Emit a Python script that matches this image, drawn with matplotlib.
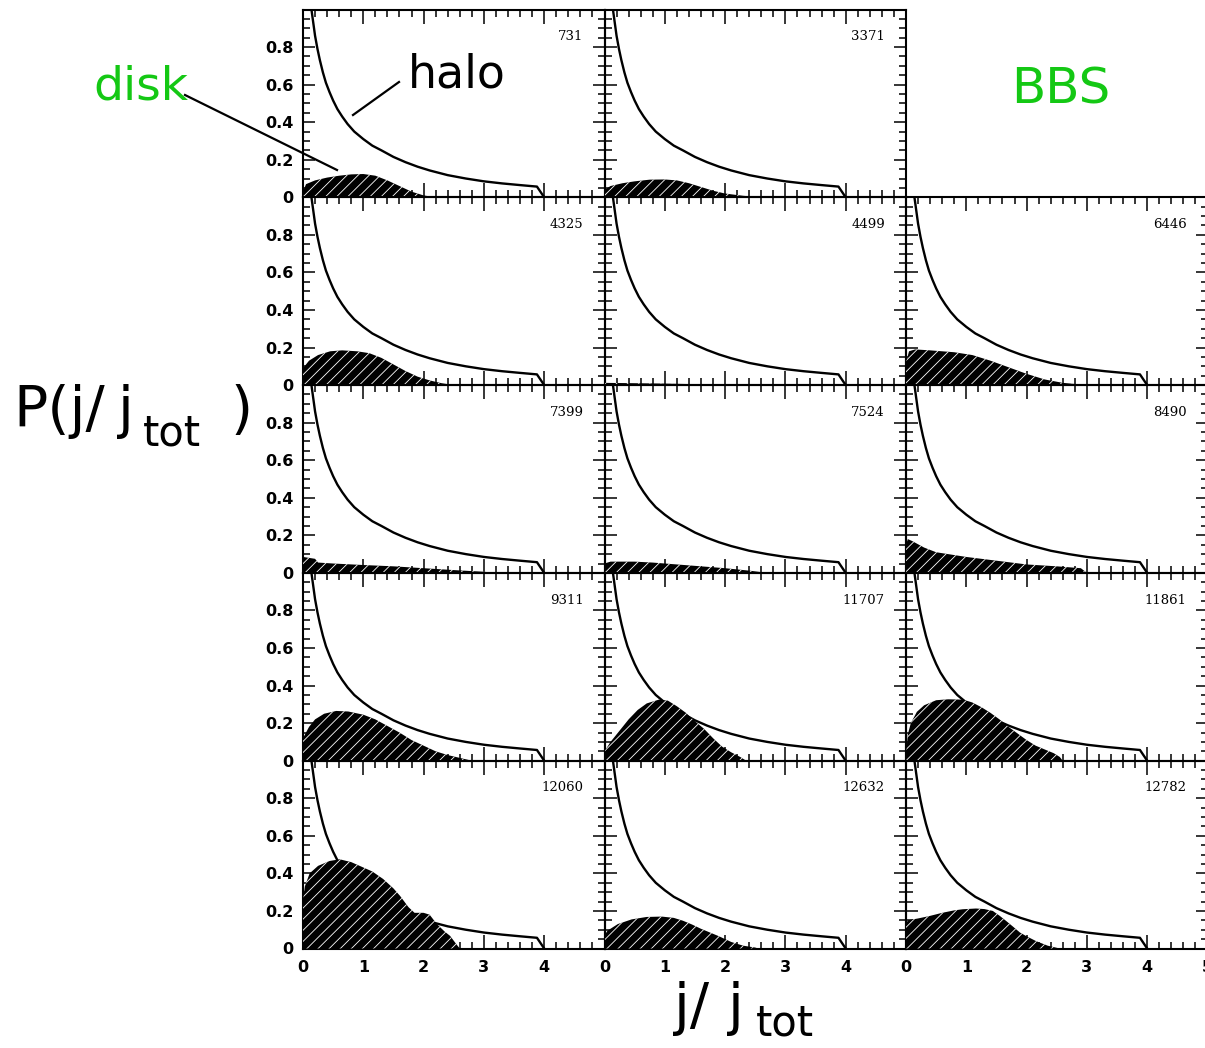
import matplotlib
matplotlib.use("Agg")
import matplotlib.pyplot as plt
from matplotlib.lines import Line2D
from matplotlib.ticker import MultipleLocator

W, H = 1205, 1048
plt.rcParams["hatch.linewidth"] = 0.6

# halo angular-momentum distribution (same in every panel)
halo_x = [0.12, 0.14, 0.17, 0.20, 0.24, 0.28, 0.33, 0.38, 0.44, 0.50, 0.57, 0.65,
          0.74, 0.85, 1.0, 1.15, 1.3, 1.5, 1.7, 1.9, 2.1, 2.4, 2.7, 3.0, 3.3, 3.6,
          3.88, 4.0]
halo_y = [1.08, 1.0, 0.93, 0.86, 0.79, 0.73, 0.665, 0.61, 0.56, 0.515, 0.47, 0.43,
          0.39, 0.35, 0.31, 0.275, 0.25, 0.215, 0.187, 0.163, 0.143, 0.118, 0.1,
          0.085, 0.074, 0.065, 0.057, 0.0]

# disk distributions, one per galaxy
disk_731_x = [0, 0.05, 0.2, 0.4, 0.6, 0.8, 1.0, 1.2, 1.4, 1.6, 1.8, 2.0, 2.2]
disk_731_y = [0.03, 0.07, 0.09, 0.105, 0.115, 0.122, 0.124, 0.115, 0.09, 0.06, 0.03, 0.01, 0.0]

disk_3371_x = [0, 0.1, 0.3, 0.5, 0.75, 1.0, 1.2, 1.4, 1.6, 1.8, 2.0, 2.3, 2.6]
disk_3371_y = [0.04, 0.06, 0.075, 0.085, 0.094, 0.095, 0.09, 0.075, 0.055, 0.035, 0.02, 0.008, 0.0]

disk_4325_x = [0, 0.1, 0.25, 0.45, 0.65, 0.9, 1.1, 1.3, 1.5, 1.7, 1.9, 2.1, 2.3, 2.5]
disk_4325_y = [0.09, 0.13, 0.16, 0.18, 0.185, 0.18, 0.17, 0.145, 0.11, 0.075, 0.045, 0.025, 0.01, 0.0]

disk_4499_x = [0, 0.5, 1.0, 1.5, 1.7]
disk_4499_y = [0.012, 0.01, 0.008, 0.005, 0.0]

disk_6446_x = [0, 0.05, 0.15, 0.4, 0.8, 1.1, 1.4, 1.7, 2.0, 2.3, 2.6, 3.0]
disk_6446_y = [0.12, 0.18, 0.19, 0.185, 0.175, 0.16, 0.13, 0.095, 0.06, 0.03, 0.012, 0.0]

disk_7399_x = [0, 0.1, 0.2, 0.25, 0.5, 1.0, 1.5, 2.0, 2.5, 3.0, 3.2]
disk_7399_y = [0.085, 0.08, 0.075, 0.055, 0.05, 0.042, 0.035, 0.025, 0.015, 0.006, 0.0]

disk_7524_x = [0, 0.1, 0.5, 0.8, 1.2, 1.6, 2.0, 2.4, 2.7]
disk_7524_y = [0.05, 0.06, 0.06, 0.055, 0.045, 0.035, 0.025, 0.012, 0.0]

disk_8490_x = [0, 0.03, 0.1, 0.3, 0.5, 0.8, 1.0, 1.5, 2.0, 2.5, 2.9, 3.0]
disk_8490_y = [0.15, 0.18, 0.17, 0.135, 0.11, 0.095, 0.085, 0.065, 0.045, 0.035, 0.025, 0.0]

disk_9311_x = [0, 0.1, 0.2, 0.35, 0.55, 0.75, 1.0, 1.2, 1.4, 1.6, 1.8, 2.0, 2.2, 2.4, 2.6, 2.8]
disk_9311_y = [0.12, 0.18, 0.22, 0.25, 0.265, 0.262, 0.245, 0.22, 0.185, 0.15, 0.11, 0.08, 0.05, 0.03, 0.015, 0.0]

disk_11707_x = [0, 0.1, 0.25, 0.4, 0.55, 0.7, 0.9, 1.05, 1.2, 1.35, 1.5, 1.65, 1.8, 1.95, 2.1, 2.25, 2.35]
disk_11707_y = [0.05, 0.1, 0.16, 0.22, 0.27, 0.305, 0.325, 0.32, 0.29, 0.255, 0.21, 0.17, 0.12, 0.075, 0.045, 0.02, 0.0]

disk_11861_x = [0, 0.03, 0.08, 0.18, 0.3, 0.5, 0.7, 0.95, 1.1, 1.25, 1.4, 1.55, 1.7, 1.85, 2.0, 2.15, 2.3, 2.45, 2.55, 2.6]
disk_11861_y = [0.03, 0.14, 0.2, 0.26, 0.295, 0.322, 0.327, 0.325, 0.31, 0.285, 0.255, 0.22, 0.18, 0.145, 0.11, 0.08, 0.06, 0.04, 0.02, 0.0]

disk_12060_x = [0, 0.03, 0.11, 0.25, 0.44, 0.61, 0.8, 0.94, 1.15, 1.33, 1.5, 1.61, 1.75, 1.85, 2.0, 2.1, 2.22, 2.35, 2.44, 2.55, 2.6]
disk_12060_y = [0.25, 0.33, 0.4, 0.44, 0.466, 0.475, 0.46, 0.44, 0.41, 0.37, 0.32, 0.28, 0.22, 0.19, 0.19, 0.18, 0.13, 0.09, 0.067, 0.02, 0.0]

disk_12632_x = [0, 0.05, 0.22, 0.45, 0.7, 0.95, 1.15, 1.3, 1.45, 1.6, 1.75, 1.9, 2.1, 2.3, 2.5, 2.55]
disk_12632_y = [0.07, 0.095, 0.13, 0.155, 0.168, 0.17, 0.163, 0.148, 0.128, 0.105, 0.085, 0.065, 0.035, 0.015, 0.005, 0.0]

disk_12782_x = [0, 0.03, 0.2, 0.39, 0.6, 0.8, 0.94, 1.16, 1.3, 1.44, 1.55, 1.66, 1.78, 1.89, 2.0, 2.16, 2.35, 2.55]
disk_12782_y = [0.13, 0.15, 0.16, 0.173, 0.19, 0.203, 0.209, 0.213, 0.21, 0.2, 0.175, 0.147, 0.115, 0.085, 0.065, 0.039, 0.015, 0.0]

# panel grid (None marks the empty slot)
panel_ids = [["731", "3371", None],
             ["4325", "4499", "6446"],
             ["7399", "7524", "8490"],
             ["9311", "11707", "11861"],
             ["12060", "12632", "12782"]]
disks = {
    "731": (disk_731_x, disk_731_y), "3371": (disk_3371_x, disk_3371_y),
    "4325": (disk_4325_x, disk_4325_y), "4499": (disk_4499_x, disk_4499_y),
    "6446": (disk_6446_x, disk_6446_y), "7399": (disk_7399_x, disk_7399_y),
    "7524": (disk_7524_x, disk_7524_y), "8490": (disk_8490_x, disk_8490_y),
    "9311": (disk_9311_x, disk_9311_y), "11707": (disk_11707_x, disk_11707_y),
    "11861": (disk_11861_x, disk_11861_y), "12060": (disk_12060_x, disk_12060_y),
    "12632": (disk_12632_x, disk_12632_y), "12782": (disk_12782_x, disk_12782_y),
}

x_ticks = [0, 1, 2, 3, 4, 5]
x_labels_inner = ["0", "1", "2", "3", "4", ""]
x_labels_last = ["0", "1", "2", "3", "4", "5"]
y_ticks = [0, 0.2, 0.4, 0.6, 0.8, 1.0]
y_labels = ["0", "0.2", "0.4", "0.6", "0.8", ""]

fig = plt.figure(figsize=(W / 100, H / 100), dpi=100)

col_left = [303, 604.5, 906]
panel_w = 301.5
row_top0 = 9.5
panel_h = 187.8

tick_font = dict(family="DejaVu Sans", weight="bold", size=11.5)

for r, row in enumerate(panel_ids):
    for c, pid in enumerate(row):
        if pid is None:
            continue
        top = row_top0 + r * panel_h
        ax = fig.add_axes([col_left[c] / W, 1 - (top + panel_h) / H,
                           panel_w / W, panel_h / H])
        ax.set_xlim(0, 5)
        ax.set_ylim(0, 1)
        ax.patch.set_alpha(0)
        for s in ax.spines.values():
            s.set_linewidth(1.5)

        ax.plot(halo_x, halo_y, color="black", lw=1.7, zorder=2)
        dx, dy = disks[pid]
        ax.fill_between(dx, 0, dy, facecolor="black", edgecolor="white",
                        hatch="///", linewidth=0, zorder=3)
        ax.text(4.65, 0.855, pid, ha="right", va="center",
                family="DejaVu Serif", size=9.5, zorder=4)

        ax.set_xticks(x_ticks)
        ax.set_yticks(y_ticks)
        ax.xaxis.set_minor_locator(MultipleLocator(0.2))
        ax.yaxis.set_minor_locator(MultipleLocator(0.05))
        ax.tick_params(which="both", direction="in", top=True, right=True,
                       width=1.1)
        ax.tick_params(axis="x", which="major", length=10, pad=8)
        ax.tick_params(axis="x", which="minor", length=5)
        ax.tick_params(axis="y", which="major", length=8.6, pad=7)
        ax.tick_params(axis="y", which="minor", length=5)

        if r == len(panel_ids) - 1:
            ax.set_xticklabels(x_labels_last if c == 2 else x_labels_inner,
                               fontdict=tick_font)
        else:
            ax.set_xticklabels([])
        if c == 0:
            ax.set_yticklabels(y_labels, fontdict=tick_font)
        else:
            ax.set_yticklabels([])


def fx(px):
    return px / W


def fy(py):
    return 1 - py / H


green = "#14c814"
big = dict(family="DejaVu Sans")

fig.text(fx(93), fy(99), "disk", color=green, size=34, va="baseline", ha="left", **big)
fig.text(fx(408), fy(88), "halo", color="black", size=33, va="baseline", ha="left", **big)
fig.text(fx(1011), fy(104), "BBS", color=green, size=36, va="baseline", ha="left", **big)

# pointer lines for the annotations
fig.add_artist(Line2D([fx(185), fx(337)], [fy(95), fy(170)], color="black", lw=1.6))
fig.add_artist(Line2D([fx(399), fx(353)], [fy(82), fy(115)], color="black", lw=1.6))

# y-axis label P(j/j_tot)
fig.text(fx(13), fy(427), "P(j/", size=41, va="baseline", ha="left", **big)
fig.text(fx(118), fy(427), "j", size=41, va="baseline", ha="left", **big)
fig.text(fx(143), fy(445), "tot", size=30, va="baseline", ha="left", **big)
fig.text(fx(230), fy(427), ")", size=41, va="baseline", ha="left", **big)

# x-axis label j/j_tot
fig.text(fx(674), fy(1024), "j/", size=41, va="baseline", ha="left", **big)
fig.text(fx(728), fy(1024), "j", size=41, va="baseline", ha="left", **big)
fig.text(fx(756), fy(1036), "tot", size=30, va="baseline", ha="left", **big)

fig.savefig("out.png", dpi=100)
